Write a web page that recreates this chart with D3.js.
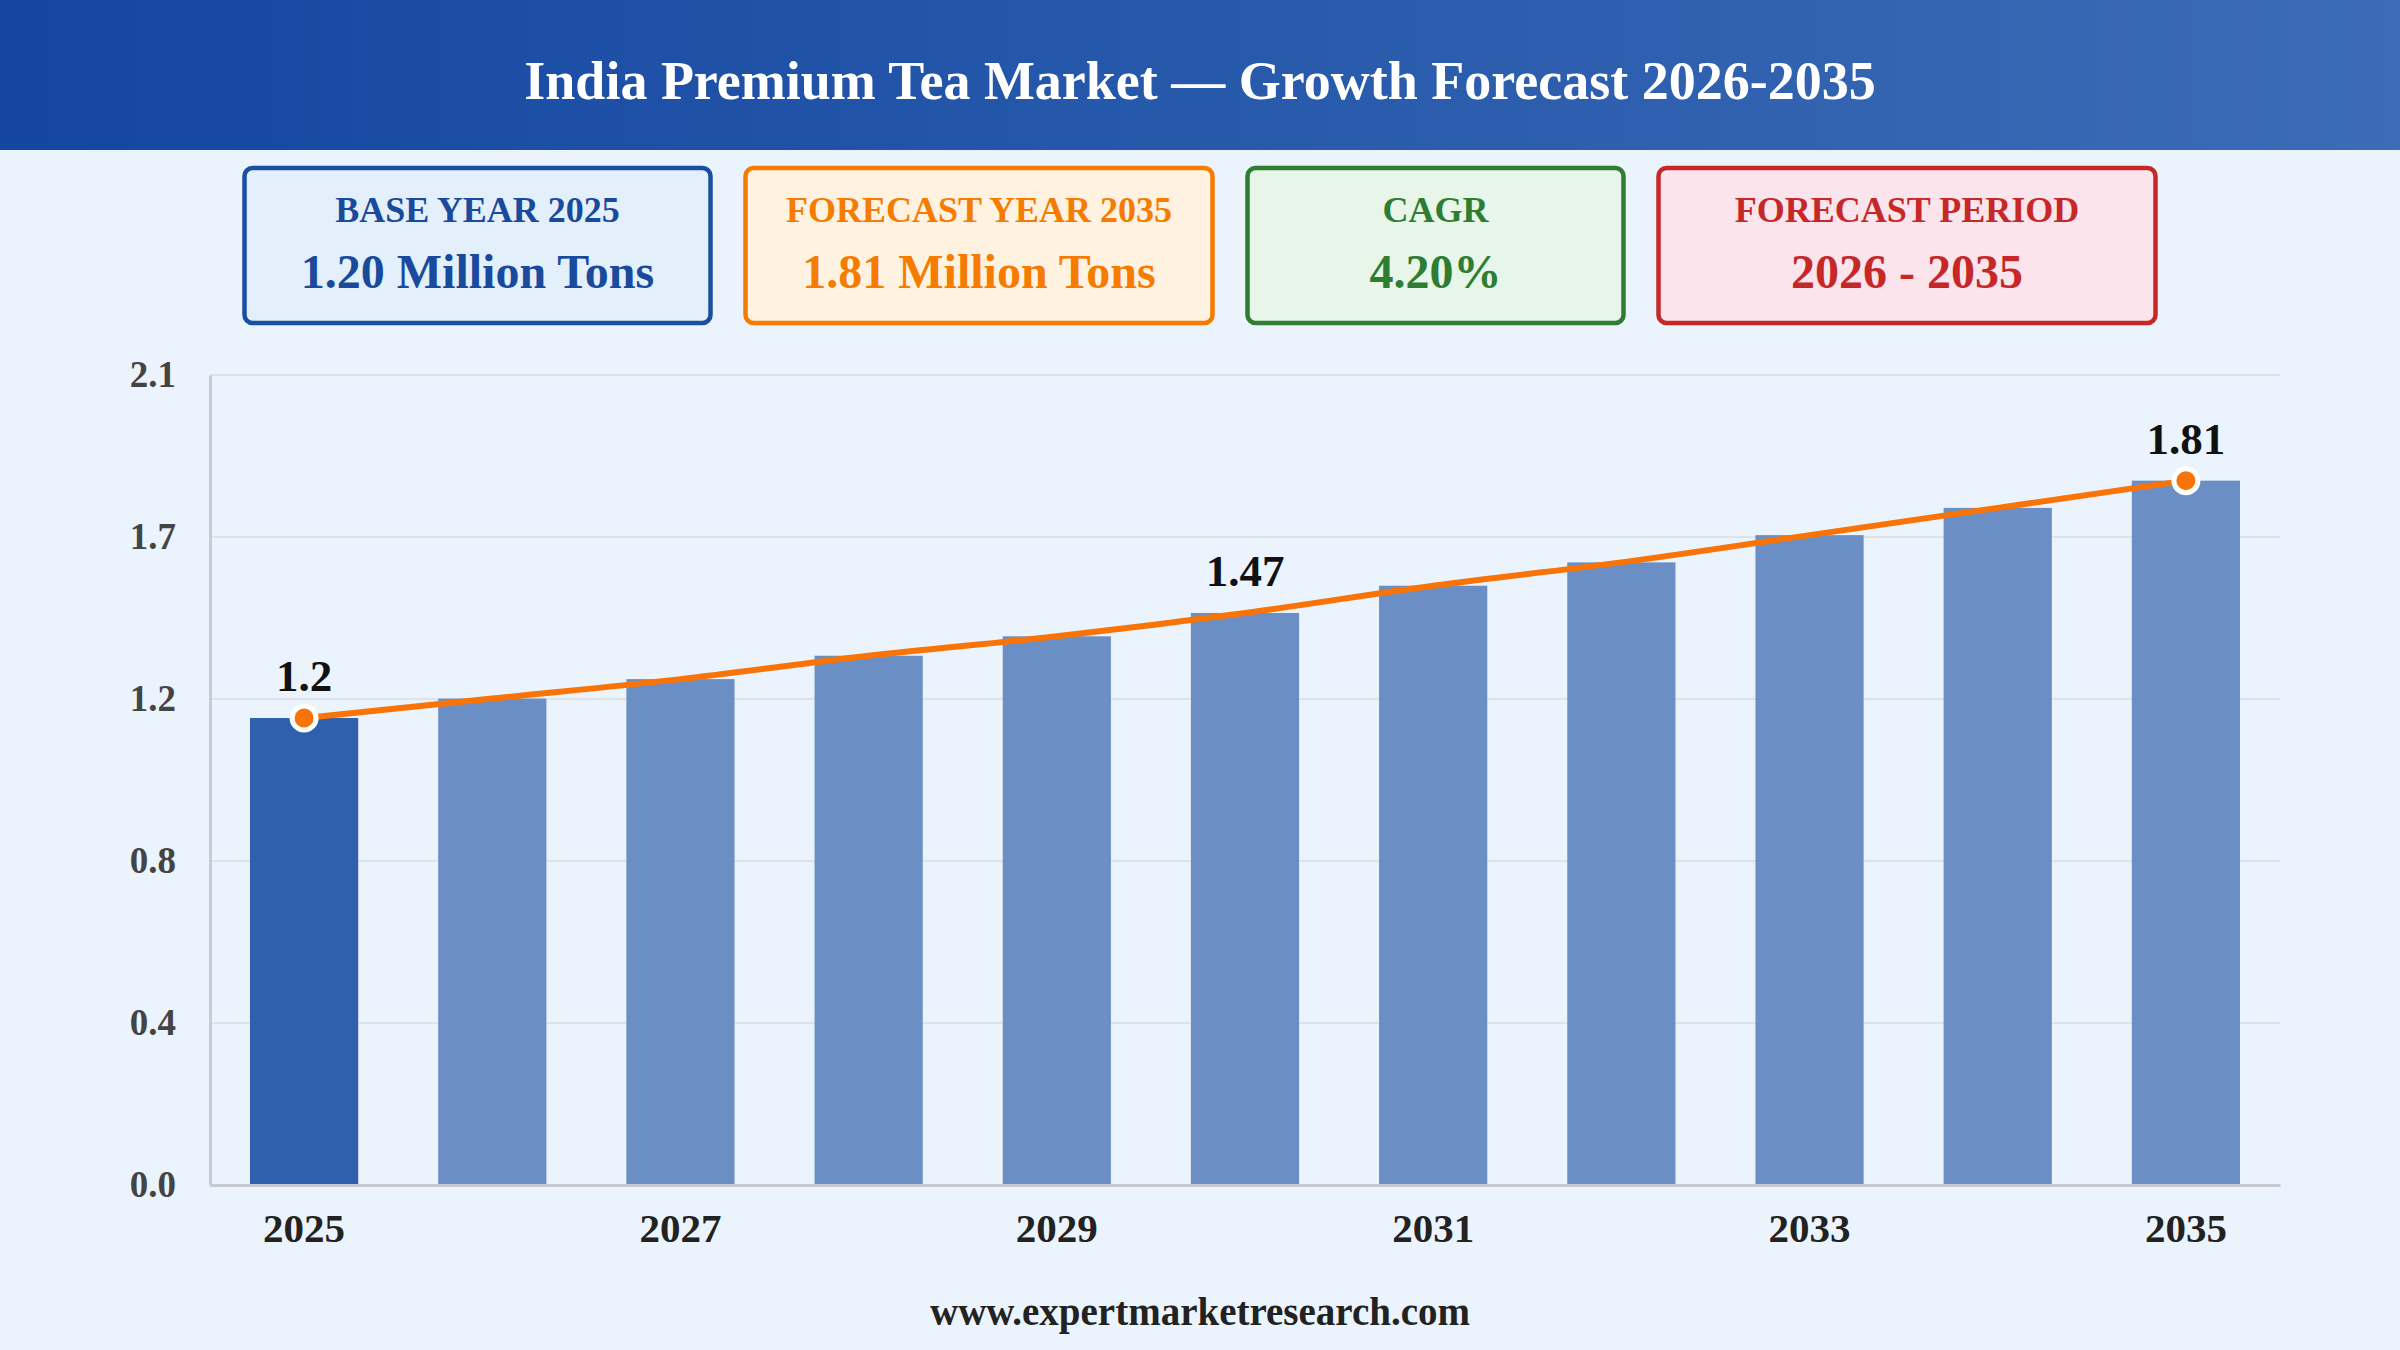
<!DOCTYPE html>
<html>
<head>
<meta charset="utf-8">
<script src="https://cdn.jsdelivr.net/npm/d3@7"></script>
<style>
  html, body { margin: 0; padding: 0; background: #ebf3fc; }
  svg { display: block; }
</style>
</head>
<body>
<script>
document.addEventListener('DOMContentLoaded', () => {
  const width = 2400;
  const height = 1350;
  const font = '"Liberation Serif", "Times New Roman", serif';

  // data
  const years = [2025, 2026, 2027, 2028, 2029, 2030, 2031, 2032, 2033, 2034, 2035];
  const volume = [1.20, 1.25, 1.30, 1.36, 1.41, 1.47, 1.54, 1.60, 1.67, 1.74, 1.81];
  const labelledYears = [2025, 2030, 2035];
  const markerYears = [2025, 2035];
  const xTickYears = [2025, 2027, 2029, 2031, 2033, 2035];

  const kpiLabels = ['BASE YEAR 2025', 'FORECAST YEAR 2035', 'CAGR', 'FORECAST PERIOD'];
  const kpiValues = ['1.20 Million Tons', '1.81 Million Tons', '4.20%', '2026 - 2035'];

  const title = 'India Premium Tea Market \u2014 Growth Forecast 2026-2035';
  const source = 'www.expertmarketresearch.com';

  // kpi box styling
  const kpiStyle = [
    { stroke: '#1a4fa0', fill: '#e3f0fc', text: '#1a4a9c', w: 466 },
    { stroke: '#f57c00', fill: '#fff2e0', text: '#f57c00', w: 467 },
    { stroke: '#2e7d32', fill: '#e8f5e9', text: '#2e7d32', w: 376 },
    { stroke: '#c62828', fill: '#fce4ec', text: '#c62828', w: 497 }
  ];

  const svg = d3.select('body')
    .append('svg')
      .attr('width', width)
      .attr('height', height);

  const defs = svg.append('defs');
  const grad = defs.append('linearGradient')
    .attr('id', 'hdr')
    .attr('x1', '0%').attr('x2', '100%')
    .attr('y1', '0%').attr('y2', '0%');
  grad.append('stop').attr('offset', '0%').attr('stop-color', '#1246a0');
  grad.append('stop').attr('offset', '100%').attr('stop-color', '#3c6cb6');

  svg.append('rect')
    .attr('width', width)
    .attr('height', height)
    .attr('fill', '#ebf3fc');

  // header
  svg.append('rect')
    .attr('width', width)
    .attr('height', 150)
    .attr('fill', 'url(#hdr)');

  svg.append('text')
    .text(title)
    .attr('x', width / 2)
    .attr('y', 99)
    .attr('text-anchor', 'middle')
    .attr('font-family', font)
    .attr('font-weight', 'bold')
    .attr('font-size', 54)
    .attr('fill', '#ffffff');

  // kpi boxes
  const gap = 35;
  const totalW = d3.sum(kpiStyle, d => d.w) + gap * (kpiStyle.length - 1);
  let bx = (width - totalW) / 2;
  kpiLabels.forEach((label, i) => {
    const s = kpiStyle[i];
    const g = svg.append('g').attr('transform', `translate(${bx},168)`);
    g.append('rect')
      .attr('width', s.w)
      .attr('height', 155)
      .attr('rx', 8)
      .attr('fill', s.fill)
      .attr('stroke', s.stroke)
      .attr('stroke-width', 4.5);
    g.append('text')
      .text(label)
      .attr('x', s.w / 2)
      .attr('y', 54)
      .attr('text-anchor', 'middle')
      .attr('font-family', font)
      .attr('font-weight', 'bold')
      .attr('font-size', 36)
      .attr('fill', s.text);
    g.append('text')
      .text(kpiValues[i])
      .attr('x', s.w / 2)
      .attr('y', 120)
      .attr('text-anchor', 'middle')
      .attr('font-family', font)
      .attr('font-weight', 'bold')
      .attr('font-size', 48)
      .attr('fill', s.text);
    bx += s.w + gap;
  });

  // chart area
  const margin = { left: 210, right: 120, top: 375, bottom: 165 };
  const plotW = width - margin.left - margin.right;
  const plotH = height - margin.top - margin.bottom;

  const yMax = d3.max(volume) * 1.15;
  const y = d3.scaleLinear()
    .domain([0, yMax])
    .range([margin.top + plotH, margin.top]);

  const x = d3.scaleBand()
    .domain(years)
    .range([margin.left, margin.left + plotW])
    .paddingInner(0.425)
    .paddingOuter(0.2125);

  const yTicks = d3.range(0, 6).map(i => yMax * i / 5);

  // grid
  svg.append('g')
    .selectAll('line')
    .data(yTicks.slice(1))
    .enter()
    .append('line')
      .attr('x1', margin.left)
      .attr('x2', margin.left + plotW)
      .attr('y1', d => y(d))
      .attr('y2', d => y(d))
      .attr('stroke', '#dfe3e8')
      .attr('stroke-width', 2);

  // y axis
  const yAxis = svg.append('g')
    .attr('transform', `translate(${margin.left},0)`)
    .call(d3.axisLeft(y).tickValues(yTicks).tickFormat(d3.format('.1f')).tickSize(0).tickPadding(34));
  yAxis.select('.domain').attr('stroke', '#c8ccd2').attr('stroke-width', 3);
  yAxis.selectAll('text')
    .attr('font-family', font)
    .attr('font-weight', 'bold')
    .attr('font-size', 37)
    .attr('fill', '#444444');

  // bars
  svg.append('g')
    .selectAll('rect')
    .data(years)
    .enter()
    .append('rect')
      .attr('x', d => x(d))
      .attr('y', (d, i) => y(volume[i]))
      .attr('width', x.bandwidth())
      .attr('height', (d, i) => y(0) - y(volume[i]))
      .attr('fill', (d, i) => i === 0 ? '#2e60ae' : '#6b8fc4');

  // x axis
  const xAxis = svg.append('g')
    .attr('transform', `translate(0,${y(0)})`)
    .call(d3.axisBottom(x).tickValues(xTickYears).tickSize(0).tickPadding(28));
  xAxis.select('.domain').attr('stroke', '#c8ccd2').attr('stroke-width', 3);
  xAxis.selectAll('text')
    .attr('font-family', font)
    .attr('font-weight', 'bold')
    .attr('font-size', 41)
    .attr('fill', '#222222');

  // trend line
  const cx = d => x(d) + x.bandwidth() / 2;
  const valueOf = yr => volume[years.indexOf(yr)];
  const line = d3.line()
    .x(d => cx(d))
    .y((d, i) => y(volume[i]))
    .curve(d3.curveMonotoneX);

  svg.append('path')
    .datum(years)
    .attr('d', line)
    .attr('fill', 'none')
    .attr('stroke', '#f97306')
    .attr('stroke-width', 6)
    .attr('stroke-linecap', 'round');

  svg.append('g')
    .selectAll('circle')
    .data(markerYears)
    .enter()
    .append('circle')
      .attr('cx', d => cx(d))
      .attr('cy', d => y(valueOf(d)))
      .attr('r', 12)
      .attr('fill', '#f97306')
      .attr('stroke', '#ffffff')
      .attr('stroke-width', 5);

  svg.append('g')
    .selectAll('text')
    .data(labelledYears)
    .enter()
    .append('text')
      .text(d => d3.format('~r')(valueOf(d)))
      .attr('x', d => cx(d))
      .attr('y', d => y(valueOf(d)) - 27)
      .attr('text-anchor', 'middle')
      .attr('font-family', font)
      .attr('font-weight', 'bold')
      .attr('font-size', 45)
      .attr('fill', '#111111');

  // source
  svg.append('text')
    .text(source)
    .attr('x', width / 2)
    .attr('y', 1325)
    .attr('text-anchor', 'middle')
    .attr('font-family', font)
    .attr('font-weight', 'bold')
    .attr('font-size', 39)
    .attr('fill', '#222222');
});
</script>
</body>
</html>
